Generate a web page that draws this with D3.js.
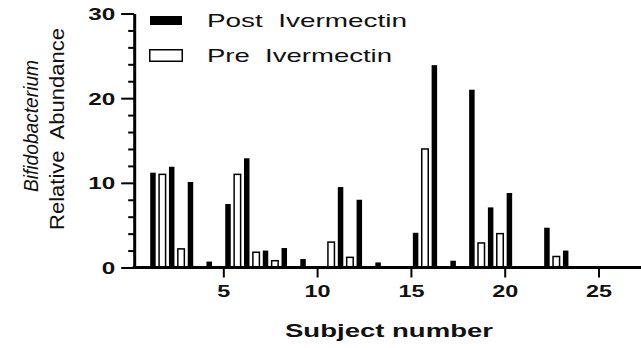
<!DOCTYPE html>
<html>
<head>
<meta charset="utf-8">
<script src="https://cdn.jsdelivr.net/npm/d3@7"></script>
<style>
  body { margin: 0; background: #fff; }
  svg { display: block; font-family: "Liberation Sans", Arial, sans-serif; }
  text { white-space: pre; }
</style>
</head>
<body>
<div id="chart"></div>
<script>
/* Bifidobacterium relative abundance, pre vs post ivermectin, per subject */

const subjects = d3.range(1, 28);
const postValues = [11.2, 11.9, 10.1, 0.7, 7.5, 12.9, 2.0, 2.3, 1.0, 0, 9.5, 8.0, 0.6, 0,
                    4.1, 23.9, 0.8, 21.0, 7.1, 8.8, 0, 4.7, 2.0, 0, 0, 0, 0];
const preValues = [0, 11.0, 2.2, 0, 0, 11.0, 1.8, 0.8, 0, 0, 3.0, 1.2, 0, 0,
                   0, 14.0, 0, 0, 2.9, 4.0, 0, 0, 1.3, 0, 0, 0, 0];
const xTicks = [5, 10, 15, 20, 25];
const yTicks = [0, 10, 20, 30];
const yMinor = [2, 4, 6, 8, 12, 14, 16, 18, 22, 24, 26, 28];

const width = 641, height = 348;

const data = subjects.map((s, i) => ({subject: s, post: postValues[i], pre: preValues[i]}));

const svg = d3.select("#chart")
    .append("svg")
    .attr("width", width)
    .attr("height", height);

const x = d3.scaleLinear()
    .domain([0, 28])
    .range([129.5, 654.8]);

const y = d3.scaleLinear()
    .domain([0, 30])
    .range([267.5, 13.5]);

// stretch text sideways like the picture
const fit = (sel, per) => sel
    .attr("textLength", function() { return this.textContent.length * per; })
    .attr("lengthAdjust", "spacingAndGlyphs");

// bars
svg.append("g").selectAll("rect")
    .data(data.filter(d => d.post > 0))
    .join("rect")
    .attr("fill", "#000")
    .attr("x", d => x(d.subject + 0.25) - 2.75)
    .attr("width", 5.5)
    .attr("y", d => y(d.post))
    .attr("height", d => y(0) - y(d.post));

svg.append("g").selectAll("rect")
    .data(data.filter(d => d.pre > 0))
    .join("rect")
    .attr("fill", "#fff")
    .attr("stroke", "#000")
    .attr("stroke-width", 1.5)
    .attr("x", d => x(d.subject - 0.25) - 3.25)
    .attr("width", 6.5)
    .attr("y", d => y(d.pre))
    .attr("height", d => y(0) - y(d.pre));

// x axis
const xAxis = svg.append("g")
    .attr("transform", `translate(0,${y(0)})`)
    .call(d3.axisBottom(x).tickValues(xTicks).tickSize(10).tickSizeOuter(0).tickPadding(7));
xAxis.select(".domain").attr("stroke-width", 3).attr("d", `M${x(0.25) - 1.5},0H${width}`);
xAxis.selectAll(".tick line").attr("stroke-width", 2);
xAxis.selectAll(".tick text")
    .attr("font-size", 17).attr("font-weight", "bold").attr("fill", "#111")
    .attr("font-family", "Liberation Sans, Arial, sans-serif")
    .call(fit, 13);

// y axis
const yAxis = svg.append("g")
    .attr("transform", `translate(${x(0.25)},0)`)
    .call(d3.axisLeft(y).tickValues(yTicks).tickSize(13).tickSizeOuter(0).tickPadding(6));
yAxis.select(".domain").attr("stroke-width", 3);
yAxis.selectAll(".tick line").attr("stroke-width", 2);
yAxis.selectAll(".tick text")
    .attr("font-size", 17).attr("font-weight", "bold").attr("fill", "#111")
    .attr("font-family", "Liberation Sans, Arial, sans-serif")
    .attr("dy", "0.36em")
    .call(fit, 13.5);

svg.append("g")
    .attr("transform", `translate(${x(0.25)},0)`)
    .call(d3.axisLeft(y).tickValues(yMinor).tickSize(6).tickFormat(""))
    .call(g => g.select(".domain").remove())
    .selectAll(".tick line").attr("stroke-width", 2);

// axis titles
svg.append("text")
    .attr("x", 389).attr("y", 337)
    .attr("text-anchor", "middle")
    .attr("font-size", 18).attr("font-weight", "bold").attr("fill", "#111")
    .attr("textLength", 208).attr("lengthAdjust", "spacingAndGlyphs")
    .text("Subject number");

svg.append("text")
    .attr("transform", "translate(37.5,126) rotate(-90)")
    .attr("text-anchor", "middle")
    .attr("font-size", 20).attr("font-style", "italic").attr("fill", "#111")
    .attr("textLength", 132).attr("lengthAdjust", "spacingAndGlyphs")
    .text("Bifidobacterium");

svg.append("text")
    .attr("transform", "translate(63.5,129) rotate(-90)")
    .attr("text-anchor", "middle")
    .attr("font-size", 20).attr("fill", "#111")
    .attr("textLength", 202).attr("lengthAdjust", "spacingAndGlyphs")
    .text("Relative  Abundance");

// legend
const legend = svg.append("g");
legend.append("rect")
    .attr("x", 150).attr("y", 16).attr("width", 32).attr("height", 9)
    .attr("fill", "#000");
legend.append("rect")
    .attr("x", 149.75).attr("y", 49.75).attr("width", 32.5).attr("height", 11.5)
    .attr("fill", "#fff").attr("stroke", "#000").attr("stroke-width", 1.5);
legend.append("text")
    .attr("x", 207).attr("y", 27)
    .attr("font-size", 18.6).attr("fill", "#111")
    .attr("textLength", 200).attr("lengthAdjust", "spacingAndGlyphs")
    .text("Post  Ivermectin");
legend.append("text")
    .attr("x", 207).attr("y", 62)
    .attr("font-size", 18.6).attr("fill", "#111")
    .attr("textLength", 185).attr("lengthAdjust", "spacingAndGlyphs")
    .text("Pre  Ivermectin");
</script>
</body>
</html>
